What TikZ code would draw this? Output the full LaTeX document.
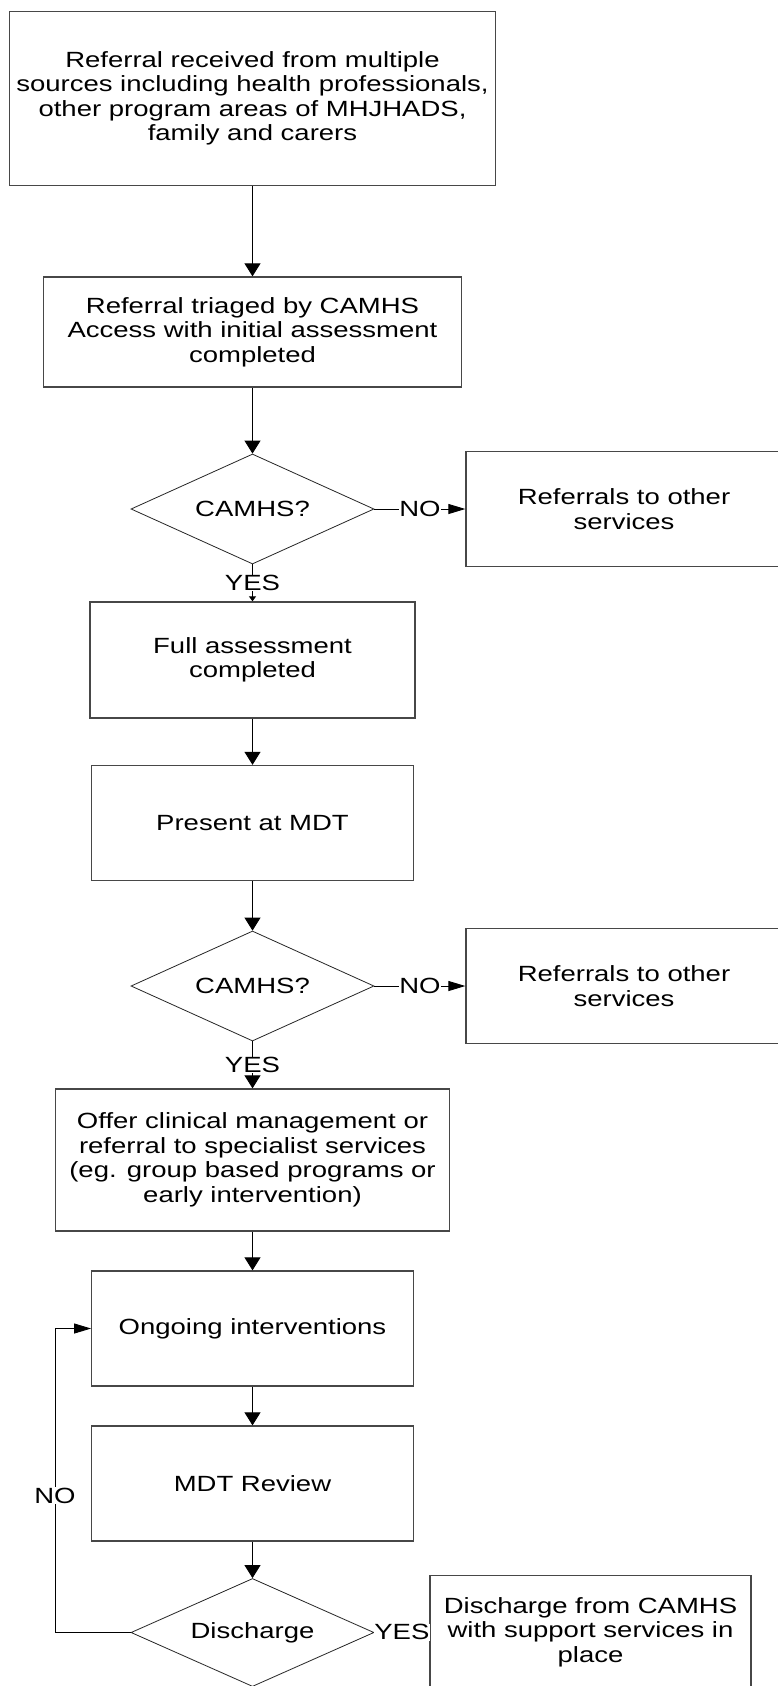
\documentclass[tikz,border=0pt]{standalone}
\usepackage{fontspec}
\setmainfont{Liberation Sans}[FakeStretch=1.25]
\usetikzlibrary{shapes.geometric,arrows.meta}
\begin{document}
\begin{tikzpicture}[x=1pt,y=-1pt,
  every node/.style={font=\fontsize{22}{24.5}\selectfont, text=black},
  procbox/.style={draw=black!72, line width=1.3pt, rectangle, align=center, inner sep=0pt},
  decision/.style={draw=black!85, line width=0.8pt, diamond, shape aspect=2.2,
    inner sep=0pt, minimum width=243pt, minimum height=110pt},
  link/.style={draw=black, line width=0.9pt},
  vflow/.style={link, -{Triangle[length=13pt,width=16pt]}},
  hflow/.style={link, -{Triangle[length=17pt,width=10pt]}},
  smallflow/.style={link, -{Triangle[length=5pt,width=7pt]}},
  lbl/.style={fill=white, inner sep=0.5pt}
]
\clip (0,0) rectangle (778,1686);
\fill[white] (0,0) rectangle (778,1686);

% main column of process steps
\node[procbox, minimum width=486pt, minimum height=174pt] (src) at (252.5,98.5)
  {Referral received from multiple\\sources including health professionals,\\other program areas of MHJHADS,\\family and carers};
\node[procbox, minimum width=418pt, minimum height=110pt] (triage) at (252.5,332)
  {Referral triaged by CAMHS\\Access with initial assessment\\completed};
\node[decision] (d1) at (252.5,509) {CAMHS?};
\node[procbox, minimum width=316pt, minimum height=115pt] (other1) at (624,509)
  {Referrals to other\\services};
\node[procbox, minimum width=325pt, minimum height=116pt] (full) at (252.5,660)
  {Full assessment\\completed};
\node[procbox, minimum width=321.5pt, minimum height=115pt] (mdt) at (252.5,823)
  {Present at MDT};
\node[decision] (d2) at (252.5,986) {CAMHS?};
\node[procbox, minimum width=316pt, minimum height=115pt] (other2) at (624,986)
  {Referrals to other\\services};
\node[procbox, minimum width=394.5pt, minimum height=142pt] (offer) at (252.5,1160)
  {Offer clinical management or\\referral to specialist services\\(eg. group based programs or\\early intervention)};
\node[procbox, minimum width=321.5pt, minimum height=115pt] (ongoing) at (252.5,1328.5)
  {Ongoing interventions};
\node[procbox, minimum width=321.5pt, minimum height=115pt] (review) at (252.5,1483.5)
  {MDT Review};
\node[decision, minimum height=108pt] (d3) at (252.5,1632.5) {Discharge};
\node[procbox, minimum width=321pt, minimum height=113pt] (dis) at (590.5,1632)
  {Discharge from CAMHS\\with support services in\\place};

% loop corners
\coordinate (lb) at (55,1632.5);
\coordinate (lt) at (55,1328.5);

% connectors
\draw[vflow] (src) -- (triage);
\draw[vflow] (triage) -- (d1);
\draw[hflow] (d1.east) -- node[lbl]{NO} (other1.west);
\draw[smallflow] (d1.south) -- node[lbl]{YES} (full.north);
\draw[vflow] (full) -- (mdt);
\draw[vflow] (mdt) -- (d2);
\draw[hflow] (d2.east) -- node[lbl]{NO} (other2.west);
\draw[vflow] (d2.south) -- node[lbl]{YES} (offer.north);
\draw[vflow] (offer) -- (ongoing);
\draw[vflow] (ongoing) -- (review);
\draw[vflow] (review) -- (d3);
\draw[link] (d3.east) -- node[lbl]{YES} (dis.west);
\draw[hflow] (d3.west) -- (lb) -- node[lbl, pos=0.45]{NO} (lt) -- (ongoing.west);
\end{tikzpicture}
\end{document}
